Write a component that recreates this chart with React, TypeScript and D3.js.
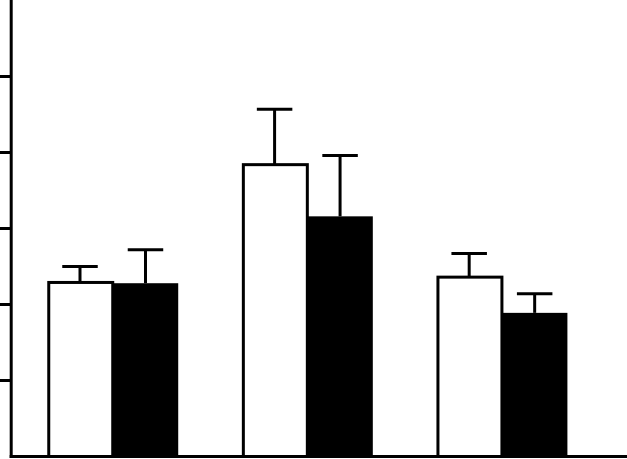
import React from "react";
import * as d3 from "d3";

const categories = ["A", "B", "C"];
const seriesNames = ["white", "black"];
const whiteValues = [22.9, 38.4, 23.6];
const blackValues = [22.8, 31.6, 18.9];
const whiteErrors = [2.1, 7.3, 3.1];
const blackErrors = [4.4, 8.0, 2.5];
const yTicks = [10, 20, 30, 40, 50];

const W = 627;
const H = 459;

export default function App() {
  const y = d3.scaleLinear().domain([0, 60]).range([456.5, 0.5]);
  const x0 = d3
    .scaleBand<string>()
    .domain(categories)
    .range([11.5, 627])
    .paddingInner(0.327)
    .paddingOuter(0.245)
    .align(0.375);
  const x1 = d3
    .scaleBand<string>()
    .domain(seriesNames)
    .range([0, x0.bandwidth()]);
  const bw = x1.bandwidth();
  const capW = 35.5;
  const sw = 3;

  const rows = categories.map((c, i) => ({
    c,
    white: whiteValues[i],
    black: blackValues[i],
    we: whiteErrors[i],
    be: blackErrors[i],
  }));

  return (
    <svg
      width={W}
      height={H}
      style={{ position: "fixed", left: 0, top: 0, background: "#fff" }}
    >
      {rows.map((r) => {
        const gx = x0(r.c)!;
        const wx = gx + x1("white")!;
        const bx = gx + x1("black")!;
        const wc = wx + bw / 2;
        const bc = bx + bw / 2;
        return (
          <g key={r.c}>
            {/* white error bar */}
            <line x1={wc} x2={wc} y1={y(r.white)} y2={y(r.white + r.we)} stroke="#000" strokeWidth={sw} />
            <line x1={wc - capW / 2} x2={wc + capW / 2} y1={y(r.white + r.we)} y2={y(r.white + r.we)} stroke="#000" strokeWidth={sw} />
            {/* black error bar */}
            <line x1={bc} x2={bc} y1={y(r.black)} y2={y(r.black + r.be)} stroke="#000" strokeWidth={sw} />
            <line x1={bc - capW / 2} x2={bc + capW / 2} y1={y(r.black + r.be)} y2={y(r.black + r.be)} stroke="#000" strokeWidth={sw} />
            <rect
              x={wx + 1.5}
              y={y(r.white)}
              width={bw - 1.5}
              height={y(0) - y(r.white)}
              fill="#fff"
              stroke="#000"
              strokeWidth={sw}
            />
            <rect
              x={bx}
              y={y(r.black)}
              width={bw}
              height={y(0) - y(r.black)}
              fill="#000"
            />
          </g>
        );
      })}
      {/* y axis */}
      <line x1={11.2} x2={11.2} y1={0} y2={458} stroke="#000" strokeWidth={3} />
      {yTicks.map((t) => (
        <line key={t} x1={0} x2={11.2} y1={y(t)} y2={y(t)} stroke="#000" strokeWidth={3} />
      ))}
      {/* x axis */}
      <line x1={9.7} x2={627} y1={456.5} y2={456.5} stroke="#000" strokeWidth={3} />
    </svg>
  );
}
